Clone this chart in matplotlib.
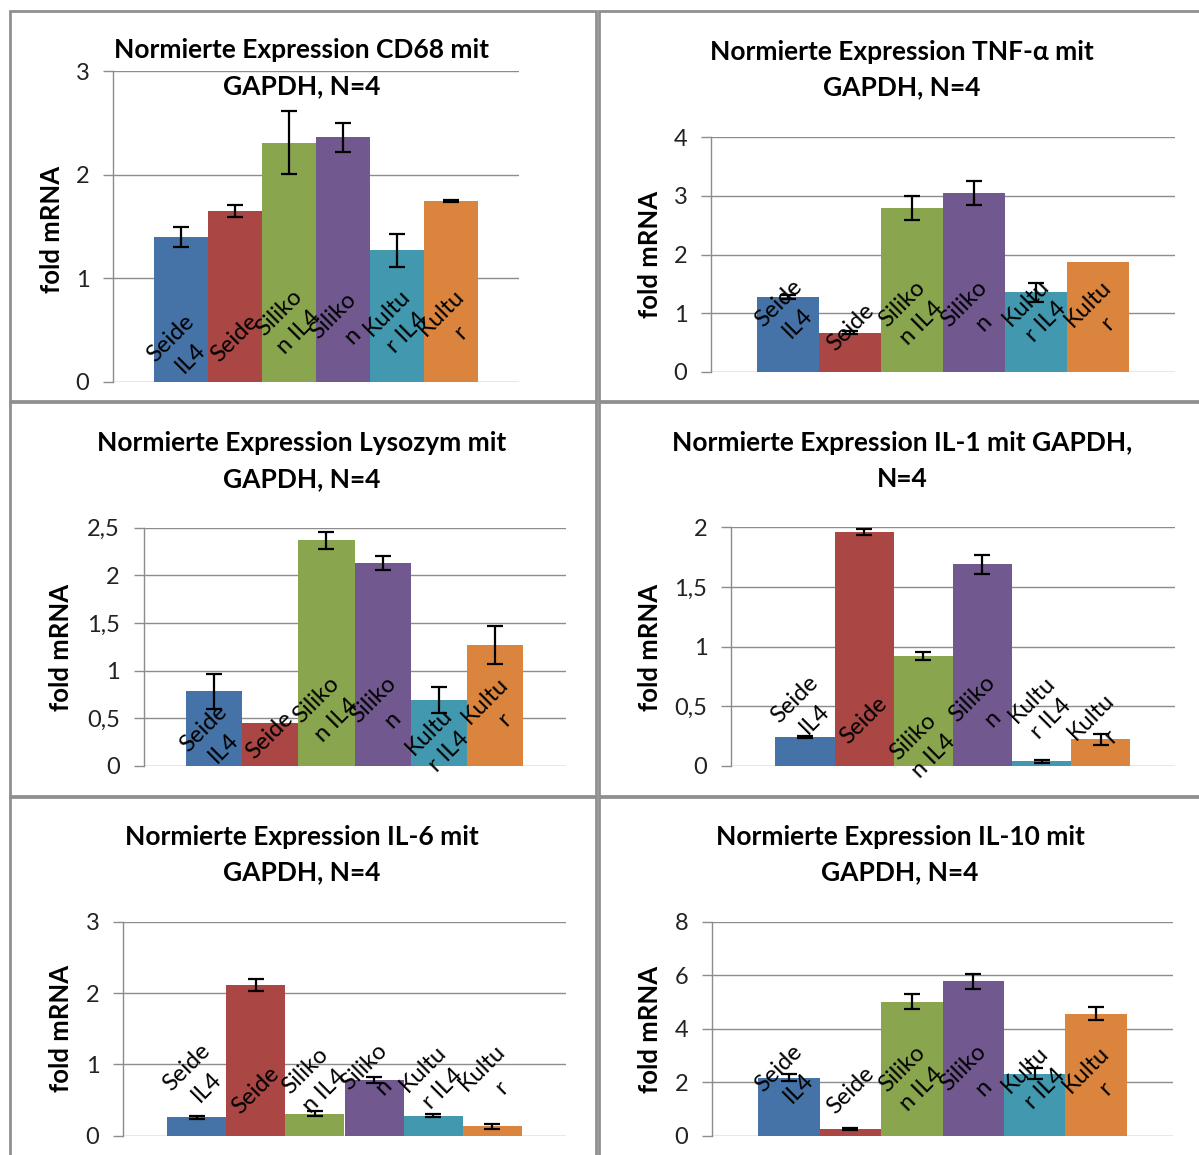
import numpy as np
import matplotlib
matplotlib.use("Agg")
import matplotlib.pyplot as plt
from matplotlib.patches import Rectangle
from matplotlib.ticker import FuncFormatter, MultipleLocator
import matplotlib.transforms as mtransforms

plt.rcParams['font.family'] = ['Lato', 'DejaVu Sans']

# ---------------- data ----------------
categories = ["Seide IL4", "Seide", "Silikon IL4", "Silikon", "Kultur IL4", "Kultur"]
bar_labels = ["Seide\nIL4", "Seide", "Siliko\nn IL4", "Siliko\nn", "Kultu\nr IL4", "Kultu\nr"]

cd68_vals = [1.40, 1.65, 2.31, 2.36, 1.27, 1.75]
cd68_errs = [0.10, 0.055, 0.30, 0.14, 0.16, 0.01]

tnf_vals = [1.28, 0.67, 2.79, 3.05, 1.36, 1.87]
tnf_errs = [0.03, 0.03, 0.20, 0.20, 0.16, np.nan]

lyso_vals = [0.78, 0.45, 2.37, 2.13, 0.69, 1.27]
lyso_errs = [0.18, np.nan, 0.09, 0.07, 0.14, 0.20]

il1_vals = [0.24, 1.96, 0.92, 1.69, 0.036, 0.22]
il1_errs = [0.01, 0.025, 0.035, 0.08, 0.01, 0.05]

il6_vals = [0.26, 2.11, 0.31, 0.78, 0.28, 0.13]
il6_errs = [0.02, 0.08, 0.04, 0.04, 0.02, 0.03]

il10_vals = [2.17, 0.26, 5.01, 5.77, 2.32, 4.56]
il10_errs = [0.12, 0.03, 0.28, 0.27, 0.20, 0.25]

titles = [
    ("Normierte Expression CD68 mit", "GAPDH, N=4"),
    ("Normierte Expression TNF-\u03b1 mit", "GAPDH, N=4"),
    ("Normierte Expression Lysozym mit", "GAPDH, N=4"),
    ("Normierte Expression IL-1 mit GAPDH,", "N=4"),
    ("Normierte Expression IL-6 mit", "GAPDH, N=4"),
    ("Normierte Expression IL-10 mit", "GAPDH, N=4"),
]
y_label = "fold mRNA"

# ---------------- layout / style ----------------
colors = ["#4572A7", "#AA4643", "#89A54E", "#71588F", "#4198AF", "#DB843D"]
W, H = 1199, 1155
fig = plt.figure(figsize=(W / 100, H / 100), dpi=100)

def fx(px):
    return px / W

def fy(py):
    return 1 - py / H

# panel: data, errs, ymax, step, axes px box (x0,y0,x1,y1), title centre x, title ys, ylabel pos, label fracs
panels = [
    (cd68_vals, cd68_errs, 3, 1, (113, 71, 519, 382), 302, (50, 86), (52, 229),
     [0.11, 0.14, 0.19, 0.18, 0.19, 0.19]),
    (tnf_vals, tnf_errs, 4, 1, (711, 137, 1175, 372), 902, (52, 87), (650, 254),
     [0.25, 0.19, 0.25, 0.25, 0.255, 0.25]),
    (lyso_vals, lyso_errs, 2.5, 0.5, (143.5, 527.7, 565.6, 765.7), 302, (443, 479), (61, 647),
     [0.114, 0.129, 0.234, 0.234, 0.10, 0.234]),
    (il1_vals, il1_errs, 2, 0.5, (731, 527.3, 1174.7, 765.7), 902, (443, 479), (650, 647),
     [0.238, 0.189, 0.08, 0.238, 0.236, 0.164]),
    (il6_vals, il6_errs, 3, 1, (123, 921.7, 566, 1135.7), 302, (837, 872), (61, 1028),
     [0.274, 0.21, 0.256, 0.274, 0.266, 0.27]),
    (il10_vals, il10_errs, 8, 2, (712, 921.7, 1173, 1135.7), 900, (837, 872), (650, 1029),
     [0.27, 0.21, 0.265, 0.27, 0.265, 0.265]),
]

grid_col = "#8c8c8c"
comma = FuncFormatter(lambda v, p: ("%g" % v).replace(".", ","))

for (vals, errs, ymax, step, box, tcx, tys, ylp, lfr), ttl in zip(panels, titles):
    x0, y0, x1, y1 = box
    ax = fig.add_axes([fx(x0), fy(y1), (x1 - x0) / W, (y1 - y0) / H])
    x = np.arange(len(categories))
    ax.bar(x, vals, width=1.0, color=colors, zorder=2)
    ax.errorbar(x, vals, yerr=errs, fmt='none', ecolor='black', elinewidth=1.6,
                capsize=5.5, capthick=1.6, zorder=3)
    ax.set_xlim(-1.25, 6.25)
    ax.set_ylim(0, ymax)
    ax.yaxis.set_major_locator(MultipleLocator(step))
    ax.yaxis.set_major_formatter(comma)
    ax.grid(axis='y', color=grid_col, lw=1.0, zorder=0)
    ax.set_axisbelow(True)
    for s in ("top", "right", "bottom"):
        ax.spines[s].set_visible(False)
    ax.spines["left"].set_color(grid_col)
    ax.spines["left"].set_linewidth(1.0)
    ax.tick_params(axis='y', length=7, width=1.0, color=grid_col, labelsize=17, pad=10,
                   labelcolor="#222222")
    ax.tick_params(axis='x', bottom=False, labelbottom=False)
    ax.patch.set_alpha(0)

    trans = mtransforms.blended_transform_factory(ax.transData, ax.transAxes)
    for xi, lab, fr in zip(x, bar_labels, lfr):
        ax.text(xi, fr, lab, transform=trans, rotation=45, rotation_mode='anchor',
                ha='center', va='center', multialignment='center', fontsize=17,
                color='black', zorder=5, linespacing=1.4, clip_on=False)

    fig.text(fx(tcx), fy(tys[0]), ttl[0], ha='center', va='center', fontsize=19,
             fontweight='bold')
    fig.text(fx(tcx), fy(tys[1]), ttl[1], ha='center', va='center', fontsize=19,
             fontweight='bold')
    fig.text(fx(ylp[0]), fy(ylp[1]), y_label, ha='center', va='center', rotation=90,
             fontsize=18.5, fontweight='bold')

# panel borders
border_col = "#8f8f8f"
for (bx0, by0, bx1, by1) in [(10, 11, 596, 401), (599, 11, 1210, 401),
                             (10, 402, 596, 796), (599, 402, 1210, 796),
                             (10, 797, 596, 1170), (599, 797, 1210, 1170)]:
    fig.add_artist(Rectangle((fx(bx0), fy(by1)), (bx1 - bx0) / W, (by1 - by0) / H,
                             transform=fig.transFigure, fill=False, edgecolor=border_col,
                             linewidth=2.0, clip_on=False))

fig.savefig("out.png", dpi=100)
